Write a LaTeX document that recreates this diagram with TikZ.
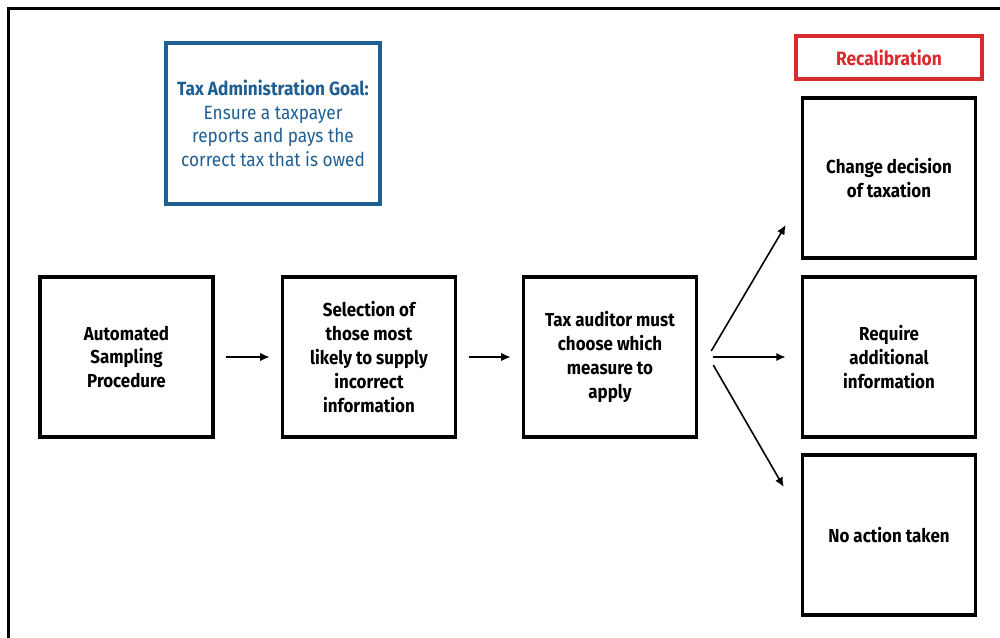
\documentclass[tikz,border=0pt]{standalone}
\usepackage{fontspec}
\setmainfont{Fira Sans}[FakeStretch=0.9]
\usetikzlibrary{arrows.meta}
\definecolor{goalblue}{HTML}{1F5E92}
\definecolor{recalred}{HTML}{D92A2E}
\begin{document}
\begin{tikzpicture}[
    stepbox/.style={draw,line width=2pt,minimum width=3.46cm,minimum height=3.2cm,
      align=center,font=\fontsize{10.7}{13.6}\selectfont\bfseries},
    arr/.style={-{Latex[length=0.19cm,width=0.17cm]},line width=0.9pt}]
                    \useasboundingbox (0,0) rectangle (20,12.76);
                    \draw[line width=1.7pt] (0.17,0) -- (0.17,12.59) -- (20,12.59);
                    \node[draw=goalblue,line width=2pt,minimum width=4.28cm,minimum height=3.22cm,
                      align=center,text=goalblue,font=\fontsize{10.9}{13.4}\selectfont] (goal) at (5.46,10.29)
                      {\textbf{Tax Administration Goal:}\\Ensure a taxpayer\\reports and pays the\\correct tax that is owed};
                    \node[draw=recalred,line width=2pt,minimum width=3.72cm,minimum height=0.86cm,
                      text=recalred,font=\fontsize{11}{13}\selectfont\bfseries] (recal) at (17.78,11.61) {Recalibration};
                    \node[stepbox] (b1) at (2.53,5.62) {Automated\\Sampling\\Procedure};
                    \node[stepbox] (b2) at (7.38,5.62) {Selection of\\those most\\likely to supply\\incorrect\\information};
                    \node[stepbox] (b3) at (12.2,5.62) {Tax auditor must\\choose which\\measure to\\apply};
                    \node[stepbox] (ra) at (17.78,9.2) {Change decision\\of taxation};
                    \node[stepbox] (rb) at (17.78,5.62) {Require\\additional\\information};
                    \node[stepbox] (rc) at (17.78,2.06) {No action taken};
                    \draw[arr,line width=1.1pt,shorten <=0.22cm,shorten >=0.22cm] (b1) -- (b2);
                    \draw[arr,line width=1.1pt,shorten <=0.24cm,shorten >=0.22cm] (b2) -- (b3);
                    \draw[arr] ([xshift=0.26cm,yshift=0.12cm]b3.east) -- ([xshift=-0.3cm,yshift=-0.94cm]ra.west);
                    \draw[arr,line width=1.1pt] ([xshift=0.3cm]b3.east) -- ([xshift=-0.3cm]rb.west);
                    \draw[arr] ([xshift=0.3cm,yshift=-0.16cm]b3.east) -- ([xshift=-0.34cm,yshift=0.96cm]rc.west);
                  \end{tikzpicture}
\end{document}
